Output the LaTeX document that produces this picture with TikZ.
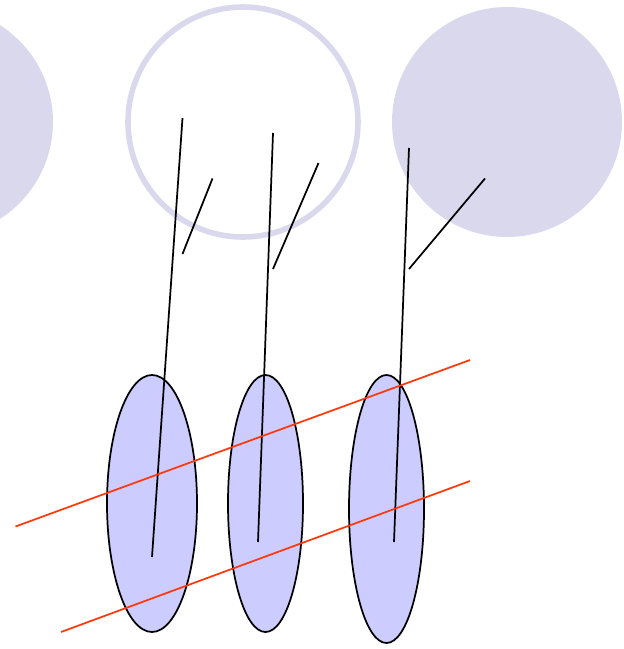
\documentclass[tikz,border=0pt]{standalone}
\usetikzlibrary{shapes.geometric}
\definecolor{lav}{RGB}{218,216,237}
\definecolor{ellfill}{RGB}{204,204,255}
\definecolor{redline}{RGB}{255,56,10}
\tikzset{
  disc/.style={circle,inner sep=0pt,outer sep=0pt,minimum size=172.5pt},
  fulldisc/.style={disc,fill=lav},
  ringdisc/.style={disc,draw=lav,line width=4.2pt},
  blob/.style={ellipse,draw=black,fill=ellfill,line width=1.3pt,inner sep=0pt,outer sep=0pt},
  stick/.style={draw=black,line width=1.3pt},
  wire/.style={draw=redline,line width=1.3pt}
}
\begin{document}
\begin{tikzpicture}[x=0.75pt,y=-0.75pt]
\useasboundingbox (0,0) rectangle (624,649);
\clip (0,0) rectangle (624,649);
% discs
\node[fulldisc] (cL) at (-62,122) {};
\node[ringdisc] (cM) at (243,122) {};
\node[fulldisc] (cR) at (507,122) {};
% ellipses
\node[blob,minimum width=67.5pt,minimum height=192.75pt] (e1) at (152,503.5) {};
\node[blob,minimum width=56.25pt,minimum height=192.75pt] (e2) at (265.5,503.5) {};
\node[blob,minimum width=56.25pt,minimum height=201pt] (e3) at (386.5,509) {};
% stick coordinates
\coordinate (a1) at (182.5,118);
\coordinate (b1) at (152,557);
\coordinate (s1) at (212.5,178.5);
\coordinate (t1) at (182.5,254);
\coordinate (a2) at (273,133);
\coordinate (b2) at (258,542);
\coordinate (s2) at (318.5,163);
\coordinate (t2) at (273,269);
\coordinate (a3) at (409,148);
\coordinate (b3) at (394,542);
\coordinate (s3) at (485,178.5);
\coordinate (t3) at (409,269);
\draw[stick] (a1) -- (b1);
\draw[stick] (s1) -- (t1);
\draw[stick] (a2) -- (b2);
\draw[stick] (s2) -- (t2);
\draw[stick] (a3) -- (b3);
\draw[stick] (s3) -- (t3);
% red lines
\coordinate (r1a) at (15.5,526.5);
\coordinate (r1b) at (470,360);
\coordinate (r2a) at (61,632);
\coordinate (r2b) at (470,481);
\draw[wire] (r1a) -- (r1b);
\draw[wire] (r2a) -- (r2b);
\end{tikzpicture}
\end{document}
